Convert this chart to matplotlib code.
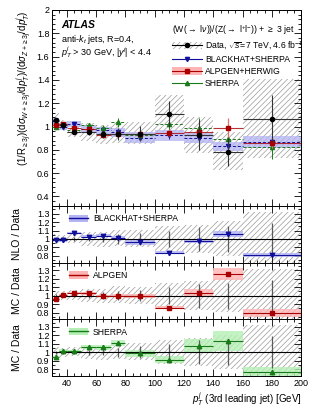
import matplotlib
matplotlib.use('Agg')
import matplotlib.pyplot as plt
import numpy as np
from matplotlib.patches import Patch
from matplotlib.lines import Line2D
from matplotlib.ticker import MultipleLocator, FixedLocator, FuncFormatter

plt.rcParams['font.family'] = ['Liberation Sans', 'DejaVu Sans']
plt.rcParams['mathtext.fontset'] = 'custom'
plt.rcParams['mathtext.rm'] = 'Liberation Sans'
plt.rcParams['mathtext.it'] = 'Liberation Sans:italic'
plt.rcParams['mathtext.bf'] = 'Liberation Sans:bold'
plt.rcParams['hatch.linewidth'] = 0.5

# bins of 3rd leading jet pT [GeV]
edges = np.array([30, 35, 40, 50, 60, 70, 80, 100, 120, 140, 160, 200])

# data (W/Z ratio, normalised)
data_val = [1.057, 1.01, 0.957, 0.955, 0.935, 0.937, 0.94, 1.105, 0.925, 0.785, 1.068]
data_stat = [0.015, 0.02, 0.02, 0.025, 0.035, 0.05, 0.065, 0.11, 0.13, 0.12, 0.2]
data_lo = [1.00, 0.96, 0.91, 0.88, 0.85, 0.86, 0.85, 0.95, 0.77, 0.63, 0.73]
data_hi = [1.12, 1.06, 1.02, 1.03, 1.01, 1.04, 1.04, 1.27, 1.08, 0.95, 1.41]

# predictions, main panel
bh_val = [1.045, 1.0, 1.025, 0.98, 0.97, 0.95, 0.905, 0.925, 0.9, 0.83, 0.87]
bh_err = [0.01, 0.01, 0.01, 0.01, 0.015, 0.02, 0.015, 0.03, 0.03, 0.04, 0.03]
bh_band = [0.03, 0.03, 0.025, 0.03, 0.03, 0.04, 0.05, 0.045, 0.045, 0.04, 0.05]
alp_val = [1.015, 1.02, 0.985, 0.98, 0.93, 0.935, 0.935, 0.945, 0.955, 0.99, 0.86]
alp_err = [0.01, 0.01, 0.01, 0.015, 0.015, 0.02, 0.02, 0.03, 0.04, 0.08, 0.04]
sh_val = [0.995, 1.025, 0.97, 1.01, 0.986, 1.037, 0.93, 1.02, 0.99, 0.895, 0.825]
sh_err = [0.01, 0.015, 0.015, 0.02, 0.03, 0.04, 0.03, 0.06, 0.08, 0.05, 0.1]

# ratio panels (prediction / data)
bh_ratio = [0.993, 0.99, 1.07, 1.027, 1.039, 1.012, 0.964, 0.84, 0.972, 1.06, 0.815]
bh_rband = [0.02, 0.025, 0.015, 0.015, 0.02, 0.02, 0.03, 0.02, 0.025, 0.035, 0.025]
alp_ratio = [0.96, 1.012, 1.031, 1.027, 0.995, 0.999, 0.995, 0.857, 1.035, 1.254, 0.797]
alp_rband = [0.01, 0.01, 0.015, 0.015, 0.015, 0.015, 0.02, 0.02, 0.04, 0.07, 0.05]
sh_ratio = [0.94, 1.014, 1.01, 1.065, 1.058, 1.105, 0.986, 0.914, 1.074, 1.137, 0.77]
sh_rband = [0.015, 0.02, 0.02, 0.02, 0.025, 0.035, 0.04, 0.04, 0.08, 0.12, 0.06]

BLUE, BLUE_L = '#10109a', '#b4b4f4'
RED, RED_L = '#a80000', '#ffb4b4'
GREEN, GREEN_L = '#187a18', '#b4f0b4'
HATCH = '#9a9a9a'
HP = '//////'

centers = 0.5 * (edges[:-1] + edges[1:])
half = 0.5 * np.diff(edges)
lefts = edges[:-1]
widths = np.diff(edges)
dval = np.array(data_val)

fig = plt.figure(figsize=(3.16, 4.13), dpi=100)
L, W = 0.165, 0.788
ax = fig.add_axes([L, 0.5012, W, 0.4746])
r1 = fig.add_axes([L, 0.3640, W, 0.1372])
r2 = fig.add_axes([L, 0.2268, W, 0.1372])
r3 = fig.add_axes([L, 0.0896, W, 0.1372])

fmt = FuncFormatter(lambda v, p: '%g' % round(v, 3))


def style(a, labels=False):
    a.set_xlim(30, 200)
    a.xaxis.set_major_locator(MultipleLocator(20))
    a.xaxis.set_minor_locator(MultipleLocator(5))
    a.tick_params(which='both', direction='in', top=True, right=True,
                  labelsize=6.5, pad=2, width=0.6)
    a.tick_params(which='major', length=5)
    a.tick_params(which='minor', length=2.5)
    if not labels:
        a.tick_params(labelbottom=False)
    for s in a.spines.values():
        s.set_linewidth(0.7)


# ---- main panel ----
ax.bar(lefts, np.array(data_hi) - np.array(data_lo), widths, bottom=data_lo,
       align='edge', fill=False, hatch=HP, edgecolor=HATCH, linewidth=0, zorder=1)
ax.bar(lefts, 2 * np.array(bh_band), widths, bottom=np.array(bh_val) - bh_band,
       align='edge', color=BLUE_L, alpha=0.75, linewidth=0, zorder=2)

ax.hlines(bh_val, edges[:-1], edges[1:], colors=BLUE, linestyles=(0, (3, 2)), lw=0.7, zorder=3)
ax.errorbar(centers, bh_val, yerr=bh_err, fmt='v', color=BLUE, ms=3, lw=0.7, zorder=4)
ax.hlines(sh_val, edges[:-1], edges[1:], colors=GREEN, linestyles=(0, (3, 2)), lw=0.7, zorder=3)
ax.errorbar(centers, sh_val, yerr=sh_err, fmt='^', color=GREEN, ms=3, lw=0.7, zorder=4)
ax.hlines(alp_val, edges[:-1], edges[1:], colors=RED, lw=0.8, zorder=3, alpha=0.8)
ax.errorbar(centers, alp_val, yerr=alp_err, fmt='s', color=RED, ecolor='#e07070', ms=3.3, lw=0.9,
            mec=RED, zorder=5)
ax.errorbar(centers, data_val, xerr=half, yerr=data_stat, fmt='o', color='k', ecolor='#333333',
            ms=3, lw=0.8, zorder=6)

ax.set_ylim(0.318, 2.0)
ax.yaxis.set_major_locator(MultipleLocator(0.2))
ax.yaxis.set_minor_locator(MultipleLocator(0.04))
ax.yaxis.set_major_formatter(fmt)
style(ax)
ax.set_ylabel(r'(1/R$_{\geq 3j}$)(d$\sigma_{W+\geq 3j}$/d$p_{T}^{j}$)/(d$\sigma_{Z+\geq 3j}$/d$p_{T}^{j}$)',
              fontsize=7, loc='top', labelpad=2)

ax.text(0.036, 0.925, 'ATLAS', transform=ax.transAxes, fontsize=7.5,
        fontweight='bold', fontstyle='italic', va='center')
ax.text(0.036, 0.852, r'anti-$k_{t}$ jets, R=0.4,', transform=ax.transAxes,
        fontsize=6.5, va='center')
ax.text(0.036, 0.785, r'$p_{T}^{j}$ > 30 GeV, $|y^{j}|$ < 4.4', transform=ax.transAxes,
        fontsize=6.5, va='center')

h_data = (Patch(facecolor='white', hatch=HP, edgecolor=HATCH, lw=0),
          Line2D([], [], color='k', marker='o', ms=3, lw=0.8))
h_bh = Line2D([], [], color=BLUE, marker='v', ms=3, lw=0.8)
h_alp = (Patch(facecolor=RED_L, lw=0), Line2D([], [], color=RED, marker='s', ms=3, lw=0.8))
h_sh = Line2D([], [], color=GREEN, marker='^', ms=3, lw=0.8)
leg = ax.legend([h_data, h_bh, h_alp, h_sh],
                [r'Data, $\sqrt{s}$=7 TeV, 4.6 fb$^{-1}$', 'BLACKHAT+SHERPA',
                 'ALPGEN+HERWIG', 'SHERPA'],
                title=r'(W($\rightarrow$ l$\nu$))/(Z($\rightarrow$ l$^{+}$l$^{-}$)) + $\geq$ 3 jet',
                loc='upper left', bbox_to_anchor=(0.465, 0.955), frameon=False,
                fontsize=6.2, title_fontsize=6.2, handlelength=3.4, handleheight=0.9,
                handletextpad=0.4, labelspacing=0.35, borderpad=0, alignment='left')

# ---- ratio panels ----
rel_lo = np.array(data_lo) / dval
rel_hi = np.array(data_hi) / dval
rel_stat = np.array(data_stat) / dval

panels = [
    (r1, bh_ratio, bh_rband, BLUE, BLUE_L, 'v', 'BLACKHAT+SHERPA', 'NLO / Data'),
    (r2, alp_ratio, alp_rband, RED, RED_L, 's', 'ALPGEN', 'MC / Data'),
    (r3, sh_ratio, sh_rband, GREEN, GREEN_L, '^', 'SHERPA', 'MC / Data'),
]
for a, rv, rb, c, cl, m, lab, ylab in panels:
    rv = np.array(rv)
    rb = np.array(rb)
    a.bar(lefts, rel_hi - rel_lo, widths, bottom=rel_lo, align='edge', fill=False,
          hatch=HP, edgecolor=HATCH, linewidth=0, zorder=1)
    a.bar(lefts, 2 * rb, widths, bottom=rv - rb, align='edge', color=cl, alpha=0.8,
          linewidth=0, zorder=2)
    a.vlines(centers, 1 - rel_stat, 1 + rel_stat, colors='#5a5a5a', lw=0.9, zorder=3)
    a.axhline(1, color='k', lw=0.8, zorder=3)
    a.hlines(rv, edges[:-1], edges[1:], colors=c, lw=0.8, zorder=4)
    a.plot(centers, rv, m, color=c, ms=3.2, zorder=5)
    a.set_ylim(0.72, 1.39)
    a.yaxis.set_major_locator(FixedLocator([0.8, 0.9, 1.0, 1.1, 1.2, 1.3]))
    a.yaxis.set_minor_locator(MultipleLocator(0.05))
    a.yaxis.set_major_formatter(fmt)
    style(a, labels=(a is r3))
    a.set_ylabel(ylab, fontsize=7.5, labelpad=4)
    a.yaxis.set_label_coords(-0.12, 0.5)
    a.legend([(Patch(facecolor=cl, lw=0), Line2D([], [], color=c, lw=1.0))], [lab],
             loc='upper left', bbox_to_anchor=(0.05, 0.93), frameon=False, fontsize=6.2,
             handlelength=2.2, handleheight=0.9, handletextpad=0.6, borderpad=0)

r3.set_xlabel(r'$p_{T}^{j}$ (3rd leading jet) [GeV]', fontsize=7, loc='right', labelpad=2)

fig.savefig('out.png', dpi=100)
